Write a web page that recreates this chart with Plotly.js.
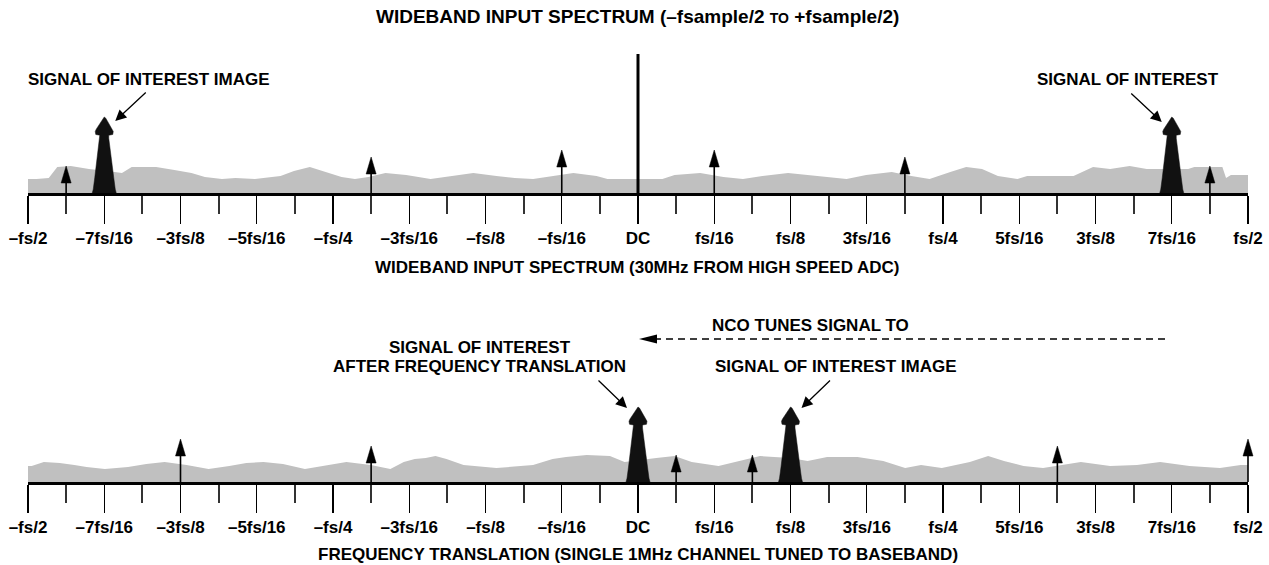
<!DOCTYPE html>
<html><head><meta charset="utf-8">
<script src="https://cdn.plot.ly/plotly-3.0.1.min.js"></script>
<style>html,body{margin:0;padding:0;background:#fff}#chart{width:1269px;height:565px}</style>
</head><body><div id="chart"></div>
<script>
// ---------------- DATA (frequency in units of fs, level in arbitrary display units) ----------------
const tickFreqs = [-8/16,-7/16,-6/16,-5/16,-4/16,-3/16,-2/16,-1/16,0,1/16,2/16,3/16,4/16,5/16,6/16,7/16,8/16];
const tickLabels = ['–fs/2','–7fs/16','–3fs/8','–5fs/16','–fs/4','–3fs/16','–fs/8','–fs/16','DC','fs/16','fs/8','3fs/16','fs/4','5fs/16','3fs/8','7fs/16','fs/2'];
const minorTickFreqs = [-15/32,-13/32,-11/32,-9/32,-7/32,-5/32,-3/32,-1/32,1/32,3/32,5/32,7/32,9/32,11/32,13/32,15/32];

// wideband input noise floor
const topNoiseFreq  = [-0.500,-0.493,-0.483,-0.476,-0.465,-0.450,-0.435,-0.423,-0.415,-0.395,-0.380,-0.366,-0.355,-0.341,-0.330,-0.314,-0.293,-0.282,-0.269,-0.255,-0.243,-0.232,-0.221,-0.207,-0.190,-0.170,-0.153,-0.135,-0.116,-0.101,-0.086,-0.071,-0.053,-0.034,-0.025,0.020,0.030,0.051,0.070,0.086,0.102,0.123,0.147,0.171,0.187,0.208,0.224,0.239,0.256,0.269,0.282,0.295,0.311,0.319,0.357,0.362,0.373,0.387,0.403,0.417,0.435,0.451,0.456,0.479,0.482,0.486,0.500];
const topNoiseLevel = [14,14,15,26,27,24,22,20,26,26,23,20,16,14,15,14,17,22,26,21,16,14,16,20,18,14,17,20,17,15,14,17,20,17,14,14,18,20,16,14,17,20,17,14,18,21,17,14,21,26,24,17,14,17,17,20,26,24,27,24,24,24,26,26,15,18,18];

// translated spectrum noise floor
const botNoiseFreq  = [-0.500,-0.497,-0.487,-0.474,-0.462,-0.452,-0.437,-0.418,-0.403,-0.388,-0.370,-0.352,-0.335,-0.321,-0.307,-0.291,-0.273,-0.257,-0.239,-0.219,-0.203,-0.192,-0.183,-0.174,-0.166,-0.157,-0.143,-0.116,-0.086,-0.070,-0.059,-0.042,-0.023,-0.011,0.000,0.015,0.030,0.044,0.066,0.100,0.125,0.139,0.155,0.180,0.201,0.219,0.232,0.249,0.272,0.287,0.300,0.316,0.332,0.346,0.363,0.387,0.409,0.428,0.452,0.477,0.494,0.500];
const botNoiseLevel = [16,16,20,19,17,15,13,15,18,20,17,13,16,19,20,18,13,16,20,17,13,20,23,24,26,23,17,14,17,23,25,27,26,20,22,24,26,20,16,26,24,21,25,25,21,14,17,14,20,26,21,16,14,17,20,16,17,20,16,14,17,17];

// signal of interest and its image
const topSignalFreq  = [-7/16, 7/16];
const topSignalLevel = [76, 76];
const botSignalFreq  = [0, 1/8];
const botSignalLevel = [75, 75];

// discrete spurs
const topSpurFreq  = [-15/32, -7/32, -1/16, 1/16, 7/32, 15/32];
const topSpurLevel = [27, 36, 43, 43, 36, 27];
const botSpurFreq  = [-3/8, -7/32, 1/32, 3/32, 11/32, 1/2];
const botSpurLevel = [43, 36, 27, 27, 36, 43];

// DC component (top spectrum only)
const dcFreq  = [0];
const dcLevel = [139];

// ---------------- LAYOUT / STYLE ----------------
const W = 1269, H = 565;
const X0 = 28, X1 = 1248;            // pixel positions of -fs/2 and +fs/2
const xDom = [X0 / W, X1 / W];
const xRange = [-0.5, 0.5];
const fsPx = (X1 - X0) / (xRange[1] - xRange[0]);  // pixels per fs
const PADPX = 14;                    // extra room so edge arrows are not clipped
const xDomWide = [(X0 - PADPX) / W, (X1 + PADPX) / W];
const xRangeWide = [xRange[0] - PADPX / fsPx, xRange[1] + PADPX / fsPx];
const TOP_BASE = 193, BOT_BASE = 482, YSPAN = 150;
const pyPaper = p => 1 - p / H;
const pxPaper = p => p / W;
const FONT = 'Liberation Sans, Arial, Helvetica, sans-serif';

// signal spectral shape (relative, style only)
const SIG_DX = [-12,-11,-9.5,-7.5,-5.5,-4.5,-4.5,-8.5,-9,-8,-6,-3.5,-1.5,0,1.5,3.5,6,8,9,8.5,4.5,4.5,5.5,7.5,9.5,11,12];
const SIG_H  = [0,0.05,0.2,0.42,0.6,0.72,0.76,0.77,0.81,0.84,0.88,0.94,0.985,1,0.985,0.94,0.88,0.84,0.81,0.77,0.76,0.72,0.6,0.42,0.2,0.05,0];
const HEAD_W = 5, HEAD_L = 17;

function signalPolys(freqs, levels) {
  const x = [], y = [];
  freqs.forEach((f, i) => {
    SIG_DX.forEach((d, j) => { x.push(f + d / fsPx); y.push(levels[i] * SIG_H[j]); });
    x.push(null); y.push(null);
  });
  return {x, y};
}
function spurShafts(freqs, levels) {
  const x = [], y = [];
  freqs.forEach((f, i) => { x.push(f, f, null); y.push(0, levels[i] - HEAD_L + 2, null); });
  return {x, y};
}
function spurHeads(freqs, levels) {
  const x = [], y = [];
  freqs.forEach((f, i) => {
    x.push(f - HEAD_W / fsPx, f, f + HEAD_W / fsPx, f - HEAD_W / fsPx, null);
    y.push(levels[i] - HEAD_L, levels[i], levels[i] - HEAD_L, levels[i] - HEAD_L, null);
  });
  return {x, y};
}

const traces = [];
function addPanel(xa, xaWide, ya, nf, nl, sf, sl, spf, spl) {
  traces.push({x: nf, y: nl, xaxis: xa, yaxis: ya, type: 'scatter', mode: 'lines', fill: 'tozeroy',
    fillcolor: '#c0c0c0', line: {width: 0, color: '#c0c0c0'}, hoverinfo: 'skip'});
  const s = signalPolys(sf, sl);
  traces.push({x: s.x, y: s.y, xaxis: xa, yaxis: ya, type: 'scatter', mode: 'lines', fill: 'toself',
    fillcolor: '#111', line: {width: 0.5, color: '#111'}, hoverinfo: 'skip'});
  const sh = spurShafts(spf, spl);
  traces.push({x: sh.x, y: sh.y, xaxis: xaWide, yaxis: ya, type: 'scatter', mode: 'lines',
    line: {width: 1.6, color: '#000'}, hoverinfo: 'skip'});
  const hd = spurHeads(spf, spl);
  traces.push({x: hd.x, y: hd.y, xaxis: xaWide, yaxis: ya, type: 'scatter', mode: 'lines', fill: 'toself',
    fillcolor: '#000', line: {width: 0.5, color: '#000'}, hoverinfo: 'skip'});
}
addPanel('x', 'x3', 'y', topNoiseFreq, topNoiseLevel, topSignalFreq, topSignalLevel, topSpurFreq, topSpurLevel);
addPanel('x2', 'x4', 'y2', botNoiseFreq, botNoiseLevel, botSignalFreq, botSignalLevel, botSpurFreq, botSpurLevel);
traces.push({x: [dcFreq[0], dcFreq[0]], y: [0, dcLevel[0]], xaxis: 'x', yaxis: 'y', type: 'scatter', mode: 'lines',
  line: {width: 3, color: '#000'}, hoverinfo: 'skip'});

function xAxis(anchor) {
  return {
    domain: xDom, range: xRange, anchor: anchor, fixedrange: true,
    showgrid: false, zeroline: false, showline: true, linewidth: 3, linecolor: '#000',
    tickmode: 'array', tickvals: tickFreqs, ticktext: tickLabels,
    ticks: 'outside', ticklen: 28, tickwidth: 1.3, tickcolor: '#000',
    tickfont: {family: FONT, size: 17, color: '#000', weight: 'bold'},
    minor: {tickmode: 'array', tickvals: minorTickFreqs, ticks: 'outside', ticklen: 18, tickwidth: 2, tickcolor: '#333', showgrid: false}
  };
}
function xAxisWide(anchor) {
  return {domain: xDomWide, range: xRangeWide, anchor: anchor, visible: false, fixedrange: true,
    showgrid: false, zeroline: false};
}
function yAxis(base, anchor) {
  return {domain: [pyPaper(base), pyPaper(base - YSPAN)], range: [0, YSPAN], anchor: anchor,
    visible: false, fixedrange: true, showgrid: false, zeroline: false};
}

const txt = (text, x, y, size, xanchor) => ({
  text: text, xref: 'paper', yref: 'paper', x: pxPaper(x), y: pyPaper(y),
  xanchor: xanchor || 'center', yanchor: 'middle', showarrow: false,
  font: {family: FONT, size: size || 17, color: '#000', weight: 'bold'}
});
const arrow = (xa, ya, fx, lvl, ax, ay) => ({
  text: '', xref: xa, yref: ya, x: fx, y: lvl, ax: ax, ay: ay, showarrow: true,
  arrowhead: 2, arrowsize: 1.7, arrowwidth: 1.3, arrowcolor: '#000', standoff: 0
});

const annotations = [
  txt('WIDEBAND INPUT SPECTRUM (–fsample/2 <span style="font-size:14px">TO</span> +fsample/2)', 638, 16, 19),
  txt('SIGNAL OF INTEREST IMAGE', 148, 79),
  txt('SIGNAL OF INTEREST', 1221, 79, 17, 'right'),
  txt('WIDEBAND INPUT SPECTRUM (30MHz FROM HIGH SPEED ADC)', 638, 268),
  txt('NCO TUNES SIGNAL TO', 810, 325),
  txt('SIGNAL OF INTEREST', 480, 347),
  txt('AFTER FREQUENCY TRANSLATION', 628, 366, 17, 'right'),
  txt('SIGNAL OF INTEREST IMAGE', 713, 366, 17, 'left'),
  txt('FREQUENCY TRANSLATION (SINGLE 1MHz CHANNEL TUNED TO BASEBAND)', 638, 554),
  arrow('x', 'y', topSignalFreq[0] + 11 / fsPx, 72, 32, -30),
  arrow('x', 'y', topSignalFreq[1] - 10 / fsPx, 71, -32, -30),
  arrow('x2', 'y2', botSignalFreq[0] - 11 / fsPx, 74, -30, -29),
  arrow('x2', 'y2', botSignalFreq[1] + 11 / fsPx, 74, 30, -29)
];

// NCO dashed tuning arrow (decoration)
const ncoY = 339, ncoTip = 639, ncoEnd = 1170;
const shapes = [
  {type: 'line', xref: 'paper', yref: 'paper', x0: pxPaper(ncoTip + 15), x1: pxPaper(ncoEnd), y0: pyPaper(ncoY), y1: pyPaper(ncoY),
   line: {color: '#000', width: 1.3, dash: '7px,5px'}},
  {type: 'path', xref: 'paper', yref: 'paper',
   path: `M${pxPaper(ncoTip)},${pyPaper(ncoY)} L${pxPaper(ncoTip + 18)},${pyPaper(ncoY - 4.5)} L${pxPaper(ncoTip + 18)},${pyPaper(ncoY + 4.5)} Z`,
   fillcolor: '#000', line: {width: 0}}
];

const layout = {
  width: W, height: H, margin: {l: 0, r: 0, t: 0, b: 0, pad: 0},
  paper_bgcolor: '#fff', plot_bgcolor: 'rgba(0,0,0,0)', showlegend: false,
  font: {family: FONT, color: '#000'},
  xaxis: xAxis('y'), yaxis: yAxis(TOP_BASE, 'x'),
  xaxis2: xAxis('y2'), yaxis2: yAxis(BOT_BASE, 'x2'),
  xaxis3: xAxisWide('y'), xaxis4: xAxisWide('y2'),
  annotations: annotations, shapes: shapes
};
Plotly.newPlot('chart', traces, layout, {staticPlot: true, displayModeBar: false});
</script></body></html>
